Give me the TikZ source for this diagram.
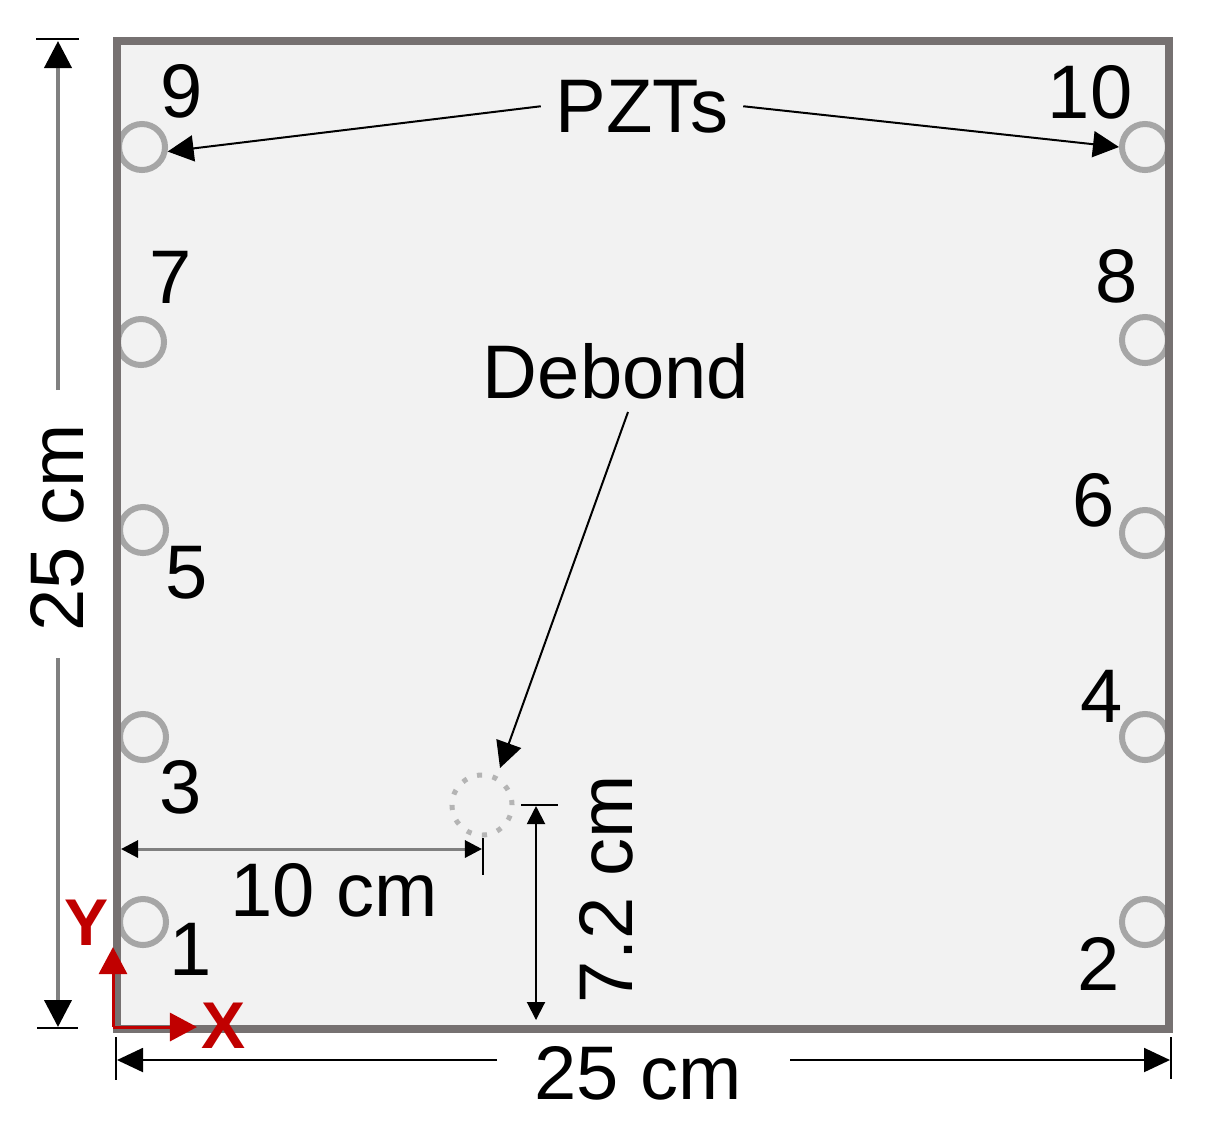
\documentclass[tikz,border=0pt]{standalone}
\usepackage{fontspec}
\setmainfont{Liberation Sans}
\usetikzlibrary{arrows.meta}
\definecolor{panelfill}{HTML}{F2F2F2}
\definecolor{bordergray}{HTML}{767171}
\definecolor{pztgray}{HTML}{A6A6A6}
\definecolor{dotgray}{HTML}{B4B4B4}
\definecolor{dimgray}{HTML}{808080}
\definecolor{axred}{HTML}{C00000}
\begin{document}
\begin{tikzpicture}[x=0.01cm, y={(0cm,-0.01cm)},
  lbl/.style={font=\fontsize{21.6}{26}\selectfont, inner sep=0pt, text=black},
  axlbl/.style={font=\fontsize{18.8}{22}\selectfont\bfseries, inner sep=0pt, text=axred},
  pzt/.style={circle, draw=pztgray, line width=0.06cm, minimum size=0.46cm, inner sep=0pt},
  dbcirc/.style={circle, draw=dotgray, line width=0.05cm, dash pattern=on 0.05cm off 0.107cm, minimum size=0.60cm, inner sep=0pt},
  callout/.style={draw=black, line width=0.02cm, -{Triangle[length=0.26cm,width=0.26cm]}},
  bigdim/.style={draw=dimgray, line width=0.04cm, -{Triangle[length=0.27cm,width=0.27cm,color=black]}},
  botdim/.style={draw=black, line width=0.02cm, -{Triangle[length=0.26cm,width=0.24cm]}},
  smalldim/.style={draw=dimgray, line width=0.03cm, {Triangle[length=0.17cm,width=0.17cm,color=black]}-{Triangle[length=0.17cm,width=0.17cm,color=black]}},
  vdim/.style={draw=black, line width=0.02cm, {Triangle[length=0.18cm,width=0.18cm]}-{Triangle[length=0.18cm,width=0.18cm]}},
  tick/.style={draw=black, line width=0.02cm},
  axis/.style={draw=axred, line width=0.03cm, -{Triangle[length=0.27cm,width=0.28cm]}}
]
\useasboundingbox (0,0) rectangle (1206,1129);
\fill[white] (0,0) rectangle (1206,1129);

% plate
\fill[panelfill] (117,41) rectangle (1169,1029);

% PZT sensors
\node[pzt] (s1) at (143,922) {};
\node[pzt] (s3) at (143,737) {};
\node[pzt] (s5) at (143,530) {};
\node[pzt] (s7) at (141,342) {};
\node[pzt] (s9) at (142,147) {};
\node[pzt] (s2) at (1145,922) {};
\node[pzt] (s4) at (1145,737) {};
\node[pzt] (s6) at (1145,533) {};
\node[pzt] (s8) at (1145,340) {};
\node[pzt] (s10) at (1145,147) {};

% plate border
\draw[draw=bordergray, line width=0.085cm] (117,41) rectangle (1169,1029);

% sensor numbers
\node[lbl, anchor=base] (n9) at (182,117) {9};
\node[lbl, anchor=base] (n7) at (171,303) {7};
\node[lbl, anchor=base] (n5) at (187,598) {5};
\node[lbl, anchor=base] (n3) at (181,813) {3};
\node[lbl, anchor=base] (n1) at (191,975) {1};
\node[lbl, anchor=base] (n10) at (1090,118) {10};
\node[lbl, anchor=base] (n8) at (1117,302) {8};
\node[lbl, anchor=base] (n6) at (1094,526) {6};
\node[lbl, anchor=base] (n4) at (1102,722) {4};
\node[lbl, anchor=base] (n2) at (1099,990) {2};

% PZTs callout
\node[lbl, anchor=base, inner sep=0.14cm] (pzts) at (642,132) {PZTs};
\draw[callout] (pzts.west) -- (s9.-10);
\draw[callout] (pzts.east) -- (s10.west);

% debond
\node[dbcirc] (debondc) at (482,805) {};
\node[lbl, anchor=base] (debond) at (616,398) {Debond};
\coordinate (dbstart) at (628,412);
\coordinate (dbtip) at (500,768);
\draw[callout] (dbstart) -- (dbtip);

% 10 cm dimension
\coordinate (d10a) at (121,849);
\coordinate (d10b) at (482,849);
\draw[smalldim] (d10a) -- (d10b);
\coordinate (t10a) at (483,838);
\coordinate (t10b) at (483,875);
\draw[tick] (t10a) -- (t10b);
\node[lbl, anchor=base] (l10) at (334,916) {10 cm};

% 7.2 cm dimension
\coordinate (t72a) at (521,805);
\coordinate (t72b) at (558,805);
\draw[tick] (t72a) -- (t72b);
\coordinate (d72a) at (536,806);
\coordinate (d72b) at (536,1020);
\draw[vdim] (d72a) -- (d72b);
\node[lbl, anchor=base, rotate=90] (l72) at (632,889) {7.2 cm};

% left 25 cm dimension
\coordinate (tla) at (36,39);
\coordinate (tlb) at (79,39);
\coordinate (tlc) at (37,1028);
\coordinate (tld) at (78,1028);
\draw[tick] (tla) -- (tlb);
\draw[tick] (tlc) -- (tld);
\coordinate (vl1) at (58,390);
\coordinate (vl2) at (58,41);
\coordinate (vl3) at (58,658);
\coordinate (vl4) at (58,1027);
\draw[bigdim] (vl1) -- (vl2);
\draw[bigdim] (vl3) -- (vl4);
\node[lbl, anchor=base, rotate=90] (l25v) at (83,528) {25 cm};

% bottom 25 cm dimension
\coordinate (tba) at (116,1037);
\coordinate (tbb) at (116,1080);
\coordinate (tbc) at (1171,1037);
\coordinate (tbd) at (1171,1079);
\draw[tick] (tba) -- (tbb);
\draw[tick] (tbc) -- (tbd);
\coordinate (hb1) at (497,1060);
\coordinate (hb2) at (117,1060);
\coordinate (hb3) at (790,1060);
\coordinate (hb4) at (1170,1060);
\draw[botdim] (hb1) -- (hb2);
\draw[botdim] (hb3) -- (hb4);
\node[lbl, anchor=base] (l25h) at (638,1099) {25 cm};

% axes
\coordinate (axo) at (113,1027);
\coordinate (axy) at (113,947);
\coordinate (axx) at (197,1027);
\draw[axis] (axo) -- (axy);
\draw[axis] (axo) -- (axx);
\node[axlbl, anchor=base] (ly) at (87,945) {Y};
\node[axlbl, anchor=base] (lx) at (224,1048) {X};
\end{tikzpicture}
\end{document}
